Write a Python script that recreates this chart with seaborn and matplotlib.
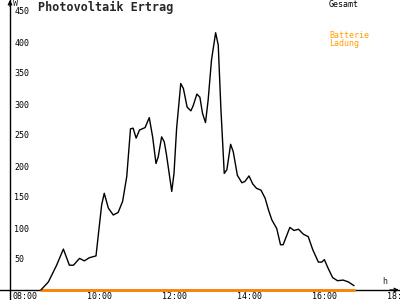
import matplotlib
matplotlib.use("Agg")
import matplotlib.pyplot as plt
import matplotlib.transforms as mtransforms
import seaborn as sns
import pandas as pd

hours = [8.69, 8.89, 9.11, 9.29, 9.45, 9.56, 9.72, 9.85, 9.98, 10.16, 10.31, 10.38,
         10.49, 10.62, 10.75, 10.87, 10.98, 11.08, 11.15, 11.23, 11.32, 11.47, 11.58,
         11.67, 11.76, 11.82, 11.91, 11.98, 12.04, 12.18, 12.24, 12.31, 12.42, 12.49,
         12.59, 12.69, 12.75, 12.85, 12.93, 13.00, 13.08, 13.15, 13.24, 13.35, 13.42,
         13.49, 13.58, 13.65, 13.75, 13.82, 13.93, 14.05, 14.13, 14.24, 14.34, 14.44,
         14.56, 14.67, 14.76, 14.85, 14.98, 15.08, 15.15, 15.33, 15.44, 15.56, 15.69,
         15.82, 15.94, 16.09, 16.18, 16.25, 16.35, 16.47, 16.60, 16.75, 16.89, 17.04]
gesamt = [0, 13, 40, 66, 40, 40, 51, 47, 52, 55, 137, 156,
          132, 121, 125, 143, 183, 260, 261, 245, 258, 262, 278,
          247, 204, 215, 247, 239, 218, 159, 188, 261, 333, 325,
          295, 289, 297, 316, 311, 285, 270, 306, 371, 415, 395,
          293, 188, 194, 235, 223, 185, 173, 175, 184, 171, 164,
          161, 148, 129, 113, 99, 73, 73, 101, 96, 98, 90,
          86, 65, 45, 45, 49, 35, 20, 15, 16, 13, 7]
batterie = [0] * len(hours)

xtick_vals = [8, 10, 12, 14, 16, 18]
xtick_labels = ["08:00", "10:00", "12:00", "14:00", "16:00", "18:00"]
ytick_vals = [50, 100, 150, 200, 250, 300, 350, 400, 450]

sns.set_style("white")
plt.rcParams["font.family"] = ["DejaVu Sans Mono"]

W, H = 400, 300
fig = plt.figure(figsize=(4, 3), dpi=100)
ax = fig.add_axes([0, 0, 1, 1])

# pixel mapping: x_px = 15 + 37.5*(h-8); y_px = 290 - 0.62*W
x0 = 8 - 15 / 37.5
x1 = 8 + (W - 15) / 37.5
y0 = -(H - 290) / 0.62
y1 = 290 / 0.62
ax.set_xlim(x0, x1)
ax.set_ylim(y0, y1)

df = pd.DataFrame({"h": hours, "gesamt": gesamt, "batterie": batterie})
sns.lineplot(data=df, x="h", y="batterie", ax=ax, color="#ff8000", lw=2, zorder=3)
sns.lineplot(data=df, x="h", y="gesamt", ax=ax, color="black", lw=1, zorder=4)

yaxis_x = x0 + 10 / 37.5
for s in ["top", "right"]:
    ax.spines[s].set_visible(False)
ax.spines["left"].set_position(("data", yaxis_x))
ax.spines["bottom"].set_position(("data", 0))
for s in ["left", "bottom"]:
    ax.spines[s].set_color("black")
    ax.spines[s].set_linewidth(1)

ax.set_xticks(xtick_vals)
ax.set_xticklabels(xtick_labels)
ax.set_yticks(ytick_vals)
ax.set_yticklabels([str(v) for v in ytick_vals])
ax.tick_params(axis="both", direction="inout", length=5, width=1, colors="black",
               labelsize=6)
ax.tick_params(axis="y", pad=-5.5)
ax.tick_params(axis="x", pad=-1.2)
for lab in ax.get_yticklabels():
    lab.set_ha("left")
off = mtransforms.ScaledTranslation(-3 / 100, 0, fig.dpi_scale_trans)
for lab in ax.get_xticklabels():
    lab.set_ha("left")
    lab.set_transform(lab.get_transform() + off)
ax.set_xlabel("")
ax.set_ylabel("")
ax.grid(False)

# arrows
ax.annotate("", xy=(yaxis_x, y1), xytext=(yaxis_x, y1 - 10),
            arrowprops=dict(arrowstyle="->", lw=1, color="black", shrinkA=0, shrinkB=0,
                            mutation_scale=6))
ax.annotate("", xy=(x0 + 399 / 37.5, 0), xytext=(x0 + 390 / 37.5, 0),
            arrowprops=dict(arrowstyle="->", lw=1, color="black", shrinkA=0, shrinkB=0,
                            mutation_scale=6))

def ft(x, y, s, **kw):
    fig.text(x / W, 1 - y / H, s, va="top", ha="left", **kw)

ft(38, 1, "Photovoltaik Ertrag", fontsize=8.5, fontweight="bold")
ft(13, -1, "W", fontsize=6)
ft(382, 277, "h", fontsize=6)
ft(329, 0, "Gesamt", fontsize=6, color="black")
ft(329, 31, "Batterie", fontsize=6, color="#ffa000")
ft(329, 39, "Ladung", fontsize=6, color="#ffa000")

fig.savefig("out.png", dpi=100)
